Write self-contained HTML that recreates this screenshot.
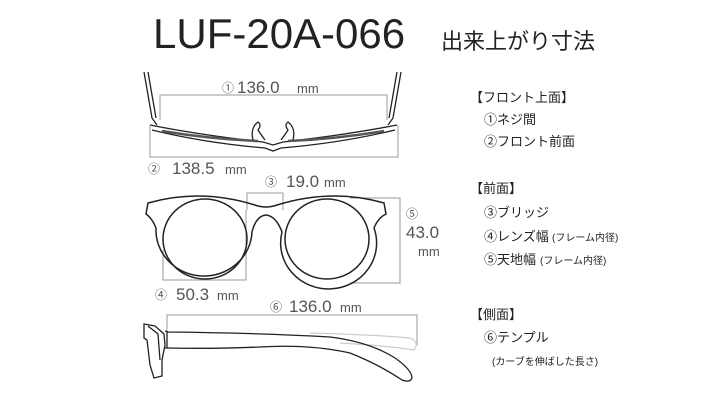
<!DOCTYPE html>
<html><head><meta charset="utf-8"><style>
html,body{margin:0;padding:0;background:#fff}
body{width:714px;height:400px;overflow:hidden;position:relative}
svg{position:absolute;left:0;top:0}
.g{font-family:"Liberation Sans","Noto Sans CJK JP",sans-serif;fill:#555}
.j{font-family:"Liberation Sans","Noto Sans CJK JP",sans-serif;fill:#222}
</style></head><body>
<svg width="714" height="400" viewBox="0 0 714 400">
<text x="153" y="48" class="j" font-size="42" fill="#111">LUF-20A-066</text>
<text x="441" y="49" class="j" font-size="22">出来上がり寸法</text>

<!-- top view -->
<g fill="none" stroke="#222" stroke-width="1.3">
<path d="M144 72 L152 118 L157 125 M148 72 L156 118"/>
<path d="M401 72 L393 118 L388 125 M397 72 L389 118"/>
<path d="M150 125 Q200 135 263 142 L273 145 L283 142 Q345 135 397 125"/>
<path d="M152 130 Q205 143 265 148 L273 151 L281 148 Q341 143 395 130"/>
<path d="M162 131 Q210 139 258 141 M288 141 Q336 139 384 131" stroke-width="2.5" stroke="#555"/>
<path d="M253 140 Q250 128 258 122 Q262 125 258 130 Q262 136 265 140"/>
<path d="M293 140 Q296 128 288 122 Q284 125 288 130 Q284 136 281 140"/>
</g>
<g fill="none" stroke="#999" stroke-width="1">
<path d="M160 120 V95 H387 V120"/>
<path d="M150 125 V157 H398 V125"/>
</g>
<text x="222" y="92" class="g" font-size="12">① </text>
<text x="237" y="93" class="g" font-size="17">136.0</text>
<text x="297" y="93" class="g" font-size="13">mm</text>
<text x="148" y="173" class="g" font-size="12">②</text>
<text x="172" y="174" class="g" font-size="17">138.5</text>
<text x="225" y="174" class="g" font-size="13">mm</text>

<!-- front view -->
<g fill="none" stroke="#999" stroke-width="1">
<path d="M247 210 V193 H283 V210"/>
<path d="M163 250 V280 H246 V210"/>
<path d="M350 198 H400 V283 H350"/>
</g>
<g fill="none" stroke="#222" stroke-width="1.5">
<path d="M148 203 Q200 188 255 205 Q266 209 277 205 Q332 188 384 203 L386 214 Q378 218 374 228 A48 46 0 1 1 282 232 Q276 216 266 215 Q256 216 252 232 A48 46 0 1 1 156 228 Q152 218 146 214 Z"/>
<ellipse cx="205" cy="239" rx="42" ry="40"/>
<ellipse cx="327" cy="239" rx="42" ry="40"/>
</g>
<text x="265" y="186" class="g" font-size="12">③</text>
<text x="286" y="187" class="g" font-size="17">19.0</text>
<text x="324" y="187" class="g" font-size="13">mm</text>
<text x="406" y="218" class="g" font-size="12">⑤</text>
<text x="406" y="238" class="g" font-size="17">43.0</text>
<text x="418" y="256" class="g" font-size="13">mm</text>
<text x="155" y="299" class="g" font-size="12">④</text>
<text x="176" y="300" class="g" font-size="17">50.3</text>
<text x="217" y="300" class="g" font-size="13">mm</text>

<!-- side view -->
<path d="M167 332 V315 H417 V345" fill="none" stroke="#999"/>
<path d="M310 333 Q380 335 410 338 Q420 342 414 350 Q390 346 340 343" fill="none" stroke="#ccc" stroke-width="1.2"/>
<g fill="none" stroke="#222" stroke-width="1.3">
<path d="M144 324 L155 326 L164 334 L165 345 L162 360 L162 376 L154 378 L150 365 L147 340 L144 338 Z"/>
<path d="M148 326 L158 334 L160 360"/>
<path d="M165 331 L168 332 Q260 333 330 337 Q370 342 395 358 Q412 370 412 378 Q410 383 402 380 Q380 365 350 353 Q310 344 260 347 Q210 349 168 348 L165 348"/>
<path d="M167 332 V348"/>
</g>
<text x="270" y="311" class="g" font-size="12">⑥</text>
<text x="289" y="312" class="g" font-size="17">136.0</text>
<text x="340" y="312" class="g" font-size="13">mm</text>

<!-- legend -->
<g class="j" font-size="13">
<text x="470" y="102">【フロント上面】</text>
<text x="484" y="124">①ネジ間</text>
<text x="484" y="146">②フロント前面</text>
<text x="470" y="193">【前面】</text>
<text x="484" y="217">③ブリッジ</text>
<text x="484" y="241">④レンズ幅 <tspan x="552" font-size="10">(フレーム内径)</tspan></text>
<text x="484" y="264">⑤天地幅 <tspan x="540" font-size="10">(フレーム内径)</tspan></text>
<text x="470" y="319">【側面】</text>
<text x="484" y="342">⑥テンプル</text>
<text x="492" y="365" font-size="10">(カーブを伸ばした長さ)</text>
</g>
</svg>
</body></html>
